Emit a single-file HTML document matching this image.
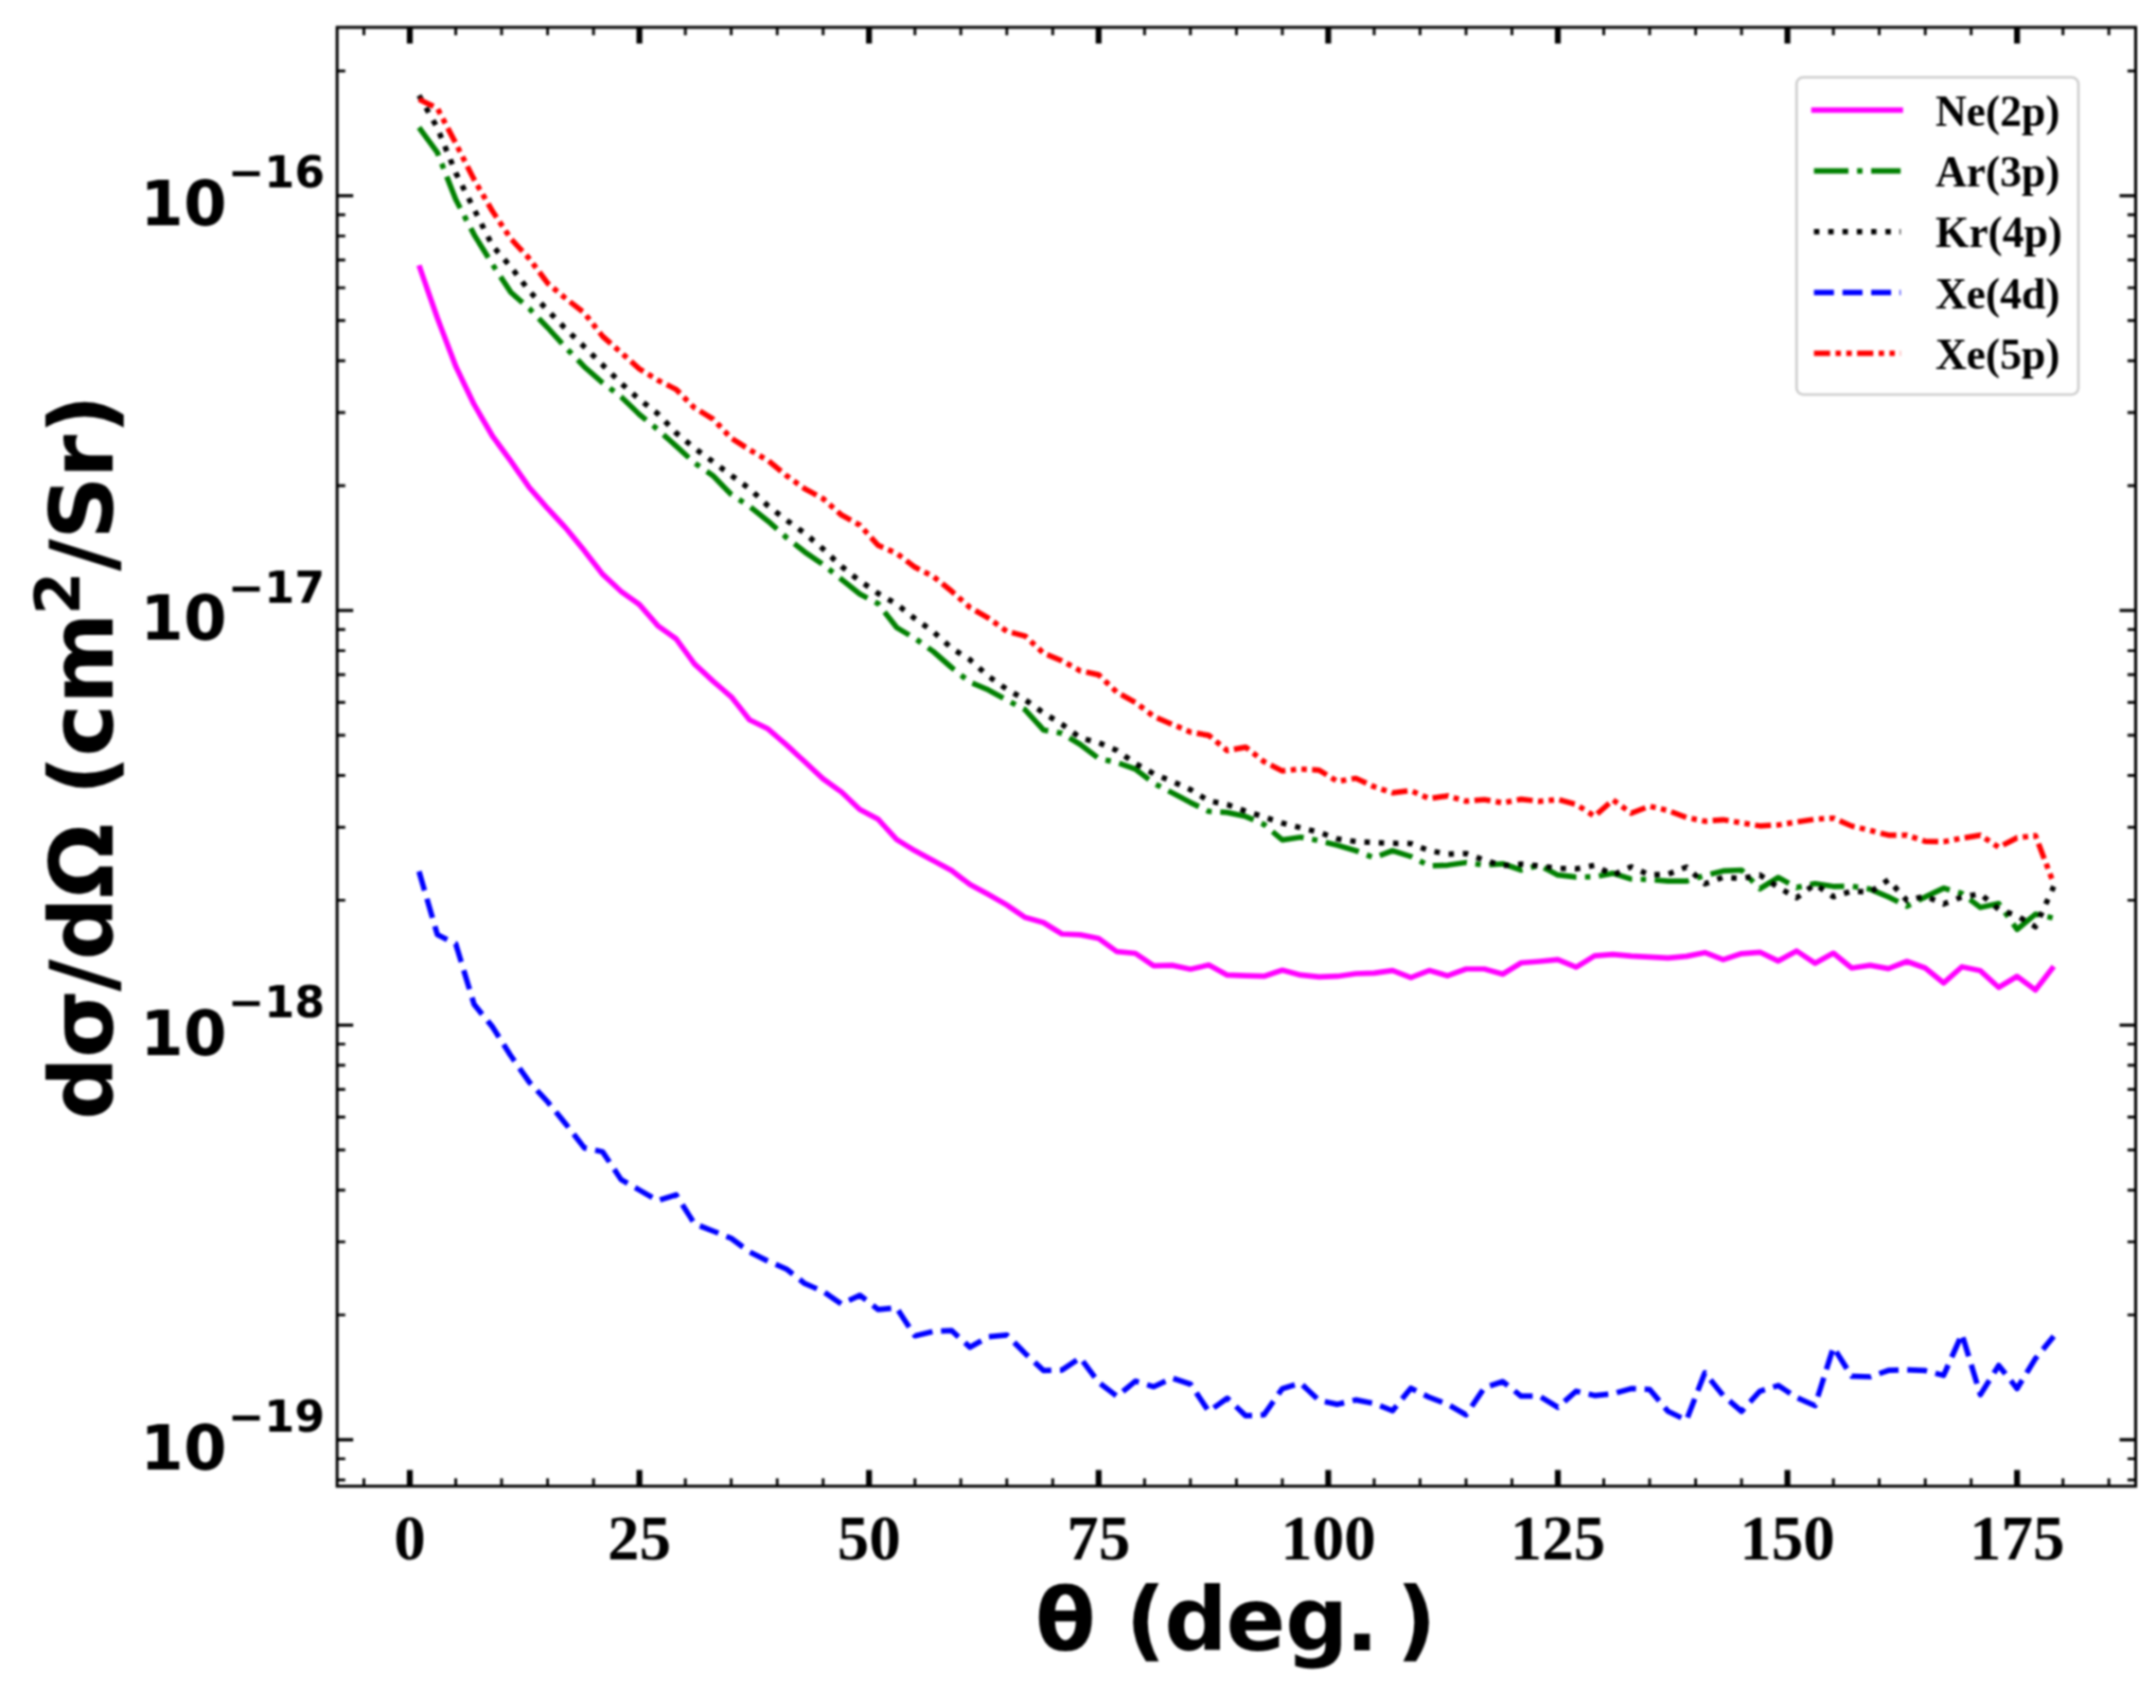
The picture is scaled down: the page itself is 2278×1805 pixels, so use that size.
<!DOCTYPE html>
<html lang="en"><head><meta charset="utf-8"><title>Differential cross sections</title>
<style>
html,body{margin:0;padding:0;background:#fff;}
body{width:2278px;height:1805px;overflow:hidden;}
svg{display:block;filter:blur(0.8px);}
</style></head><body>
<svg width="2278" height="1805" viewBox="0 0 2278 1805">
<rect x="0" y="0" width="2278" height="1805" fill="#fff"/>
<g fill="none" stroke-linejoin="round" stroke-linecap="butt">
<path d="M442.7,280.4 L462.1,336.0 L481.5,387.1 L500.9,427.4 L520.3,460.8 L539.7,487.3 L559.2,515.1 L578.6,537.3 L598.0,558.2 L617.4,581.9 L636.8,606.9 L656.2,625.0 L675.6,638.9 L695.0,661.2 L714.4,675.1 L733.8,701.6 L753.2,719.7 L772.6,736.3 L792.0,760.8 L811.5,770.3 L830.9,787.1 L850.3,805.0 L869.7,823.1 L889.1,837.0 L908.5,855.5 L927.9,865.8 L947.3,887.1 L966.7,899.1 L986.1,909.4 L1005.5,920.0 L1024.9,934.8 L1044.4,945.2 L1063.8,956.4 L1083.2,969.6 L1102.6,975.0 L1122.0,987.0 L1141.4,987.9 L1160.8,991.7 L1180.2,1005.7 L1199.6,1007.5 L1219.0,1020.6 L1238.4,1020.1 L1257.8,1024.2 L1277.2,1019.8 L1296.7,1030.4 L1316.1,1031.2 L1335.5,1031.7 L1354.9,1025.3 L1374.3,1030.4 L1393.7,1032.3 L1413.1,1031.7 L1432.5,1029.0 L1451.9,1028.4 L1471.3,1025.6 L1490.7,1033.1 L1510.1,1025.6 L1529.6,1031.2 L1549.0,1024.0 L1568.4,1024.0 L1587.8,1029.5 L1607.2,1017.5 L1626.6,1016.0 L1646.0,1014.1 L1665.4,1022.1 L1684.8,1010.1 L1704.2,1008.6 L1723.6,1010.4 L1743.0,1011.4 L1762.4,1012.3 L1781.9,1010.6 L1801.3,1006.7 L1820.7,1014.1 L1840.1,1007.8 L1859.5,1006.3 L1878.9,1015.6 L1898.3,1005.0 L1917.7,1017.9 L1937.1,1007.3 L1956.5,1023.0 L1975.9,1020.1 L1995.3,1023.6 L2014.8,1016.0 L2034.2,1023.0 L2053.6,1038.8 L2073.0,1021.7 L2092.4,1025.8 L2111.8,1043.5 L2131.2,1031.8 L2150.6,1046.2 L2170.0,1021.2" stroke="#ff00ff" stroke-width="5.7"/>
<path d="M442.7,134.7 L462.1,161.1 L481.5,210.8 L500.9,247.9 L520.3,279.4 L539.7,308.9 L559.2,326.0 L578.6,346.2 L598.0,367.6 L617.4,387.6 L636.8,404.6 L656.2,419.3 L675.6,438.0 L695.0,453.9 L714.4,471.4 L733.8,489.2 L753.2,502.6 L772.6,522.6 L792.0,535.1 L811.5,550.7 L830.9,568.0 L850.3,583.3 L869.7,596.6 L889.1,612.2 L908.5,627.8 L927.9,638.1 L947.3,663.1 L966.7,674.6 L986.1,688.5 L1005.5,705.5 L1024.9,720.9 L1044.4,729.2 L1063.8,739.8 L1083.2,750.1 L1102.6,771.5 L1122.0,774.9 L1141.4,786.8 L1160.8,801.6 L1180.2,805.8 L1199.6,812.7 L1219.0,827.7 L1238.4,837.8 L1257.8,848.1 L1277.2,857.5 L1296.7,858.6 L1316.1,862.8 L1335.5,871.2 L1354.9,887.6 L1374.3,884.8 L1393.7,888.4 L1413.1,893.2 L1432.5,899.0 L1451.9,906.5 L1471.3,899.0 L1490.7,905.1 L1510.1,914.9 L1529.6,914.3 L1549.0,911.5 L1568.4,914.3 L1587.8,912.8 L1607.2,919.5 L1626.6,914.5 L1646.0,924.7 L1665.4,926.9 L1684.8,926.6 L1704.2,922.9 L1723.6,929.0 L1743.0,929.5 L1762.4,931.2 L1781.9,931.2 L1801.3,925.1 L1820.7,920.4 L1840.1,919.5 L1859.5,939.2 L1878.9,927.3 L1898.3,937.9 L1917.7,933.8 L1937.1,936.8 L1956.5,936.6 L1975.9,939.6 L1995.3,947.9 L2014.8,957.6 L2034.2,947.9 L2053.6,938.6 L2073.0,944.2 L2092.4,959.0 L2111.8,954.8 L2131.2,982.2 L2150.6,966.1 L2170.0,970.2" stroke="#008000" stroke-width="5.7" stroke-dasharray="36.33,9.08,5.68,9.08"/>
<path d="M442.7,100.8 L462.1,135.1 L481.5,182.6 L500.9,221.0 L520.3,259.6 L539.7,282.0 L559.2,307.5 L578.6,327.9 L598.0,347.9 L617.4,366.5 L636.8,385.7 L656.2,404.9 L675.6,422.1 L695.0,437.2 L714.4,457.5 L733.8,473.6 L753.2,487.8 L772.6,502.3 L792.0,516.5 L811.5,534.6 L830.9,549.6 L850.3,563.5 L869.7,580.2 L889.1,598.6 L908.5,613.9 L927.9,627.2 L947.3,638.4 L966.7,653.7 L986.1,667.6 L1005.5,685.0 L1024.9,697.2 L1044.4,714.7 L1063.8,728.4 L1083.2,739.5 L1102.6,753.4 L1122.0,765.4 L1141.4,779.6 L1160.8,784.9 L1180.2,793.2 L1199.6,806.9 L1219.0,817.7 L1238.4,825.8 L1257.8,834.4 L1277.2,846.4 L1296.7,850.3 L1316.1,857.2 L1335.5,863.4 L1354.9,869.8 L1374.3,874.8 L1393.7,879.5 L1413.1,886.5 L1432.5,889.3 L1451.9,890.4 L1471.3,891.2 L1490.7,891.5 L1510.1,899.0 L1529.6,902.6 L1549.0,902.0 L1568.4,909.0 L1587.8,914.8 L1607.2,913.2 L1626.6,914.9 L1646.0,917.7 L1665.4,918.2 L1684.8,914.5 L1704.2,924.7 L1723.6,916.0 L1743.0,924.7 L1762.4,923.8 L1781.9,916.4 L1801.3,934.0 L1820.7,927.1 L1840.1,928.4 L1859.5,924.7 L1878.9,937.7 L1898.3,948.8 L1917.7,934.4 L1937.1,947.7 L1956.5,941.7 L1975.9,942.8 L1995.3,929.9 L2014.8,951.6 L2034.2,947.0 L2053.6,955.3 L2073.0,947.9 L2092.4,944.6 L2111.8,960.9 L2131.2,967.8 L2150.6,979.4 L2170.0,936.8" stroke="#000000" stroke-width="5.7" stroke-dasharray="5.70,9.40"/>
<path d="M442.7,920.9 L462.1,987.7 L481.5,997.4 L500.9,1061.4 L520.3,1085.1 L539.7,1115.7 L559.2,1143.5 L578.6,1164.4 L598.0,1188.1 L617.4,1213.1 L636.8,1217.3 L656.2,1246.5 L675.6,1257.6 L695.0,1268.8 L714.4,1262.7 L733.8,1293.3 L753.2,1300.8 L772.6,1308.6 L792.0,1323.0 L811.5,1332.8 L830.9,1341.1 L850.3,1356.4 L869.7,1364.8 L889.1,1378.0 L908.5,1368.8 L927.9,1383.9 L947.3,1382.0 L966.7,1411.7 L986.1,1407.1 L1005.5,1406.2 L1024.9,1423.8 L1044.4,1412.7 L1063.8,1410.8 L1083.2,1430.3 L1102.6,1448.3 L1122.0,1447.9 L1141.4,1434.9 L1160.8,1460.9 L1180.2,1475.7 L1199.6,1459.6 L1219.0,1465.5 L1238.4,1456.3 L1257.8,1462.7 L1277.2,1491.5 L1296.7,1477.6 L1316.1,1496.1 L1335.5,1495.2 L1354.9,1467.4 L1374.3,1461.8 L1393.7,1480.0 L1413.1,1484.1 L1432.5,1479.4 L1451.9,1483.2 L1471.3,1490.9 L1490.7,1467.0 L1510.1,1476.7 L1529.6,1484.1 L1549.0,1495.2 L1568.4,1466.5 L1587.8,1460.0 L1607.2,1475.4 L1626.6,1475.4 L1646.0,1487.3 L1665.4,1470.2 L1684.8,1474.8 L1704.2,1473.0 L1723.6,1467.4 L1743.0,1468.3 L1762.4,1491.5 L1781.9,1500.8 L1801.3,1450.7 L1820.7,1474.8 L1840.1,1491.5 L1859.5,1470.2 L1878.9,1464.2 L1898.3,1477.0 L1917.7,1485.5 L1937.1,1423.8 L1956.5,1454.4 L1975.9,1455.0 L1995.3,1448.2 L2014.8,1447.7 L2034.2,1448.4 L2053.6,1453.5 L2073.0,1409.9 L2092.4,1473.9 L2111.8,1442.9 L2131.2,1467.4 L2150.6,1435.8 L2170.0,1412.1" stroke="#0000ff" stroke-width="5.7" stroke-dasharray="21.03,9.09"/>
<path d="M442.7,105.0 L462.1,114.3 L481.5,151.4 L500.9,189.8 L520.3,223.2 L539.7,252.2 L559.2,273.3 L578.6,299.3 L598.0,315.6 L617.4,330.8 L636.8,355.5 L656.2,372.5 L675.6,389.8 L695.0,401.8 L714.4,411.5 L733.8,431.0 L753.2,442.7 L772.6,463.0 L792.0,475.3 L811.5,486.7 L830.9,502.6 L850.3,516.5 L869.7,527.0 L889.1,544.3 L908.5,554.9 L927.9,576.3 L947.3,584.7 L966.7,599.4 L986.1,609.2 L1005.5,624.8 L1024.9,642.1 L1044.4,653.2 L1063.8,667.2 L1083.2,672.2 L1102.6,690.3 L1122.0,698.3 L1141.4,708.9 L1160.8,713.1 L1180.2,731.7 L1199.6,742.3 L1219.0,757.0 L1238.4,765.4 L1257.8,773.7 L1277.2,777.1 L1296.7,793.2 L1316.1,789.6 L1335.5,804.9 L1354.9,814.7 L1374.3,812.7 L1393.7,813.8 L1413.1,825.8 L1432.5,822.5 L1451.9,831.4 L1471.3,837.8 L1490.7,835.5 L1510.1,843.9 L1529.6,841.1 L1549.0,846.7 L1568.4,845.0 L1587.8,848.4 L1607.2,844.6 L1626.6,846.8 L1646.0,844.9 L1665.4,850.1 L1684.8,862.6 L1704.2,845.3 L1723.6,859.4 L1743.0,852.0 L1762.4,856.6 L1781.9,863.9 L1801.3,867.8 L1820.7,866.3 L1840.1,869.6 L1859.5,872.8 L1878.9,871.8 L1898.3,868.7 L1917.7,865.7 L1937.1,864.6 L1956.5,873.0 L1975.9,877.6 L1995.3,882.6 L2014.8,882.6 L2034.2,889.1 L2053.6,889.5 L2073.0,885.8 L2092.4,882.6 L2111.8,895.4 L2131.2,885.4 L2150.6,883.0 L2170.0,934.0" stroke="#ff0000" stroke-width="5.7" stroke-dasharray="16.99,5.66,5.66,5.66,5.66,5.66"/>
</g>
<g stroke="#000" fill="none">
<path d="M433.0,1570.6v-17.0M433.0,28.9v17.0M675.6,1570.6v-17.0M675.6,28.9v17.0M918.2,1570.6v-17.0M918.2,28.9v17.0M1160.8,1570.6v-17.0M1160.8,28.9v17.0M1403.4,1570.6v-17.0M1403.4,28.9v17.0M1646.0,1570.6v-17.0M1646.0,28.9v17.0M1888.6,1570.6v-17.0M1888.6,28.9v17.0M2131.2,1570.6v-17.0M2131.2,28.9v17.0" stroke-width="6.2"/>
<path d="M384.5,1570.6v-8.3M384.5,28.9v8.3M481.5,1570.6v-8.3M481.5,28.9v8.3M530.0,1570.6v-8.3M530.0,28.9v8.3M578.6,1570.6v-8.3M578.6,28.9v8.3M627.1,1570.6v-8.3M627.1,28.9v8.3M724.1,1570.6v-8.3M724.1,28.9v8.3M772.6,1570.6v-8.3M772.6,28.9v8.3M821.2,1570.6v-8.3M821.2,28.9v8.3M869.7,1570.6v-8.3M869.7,28.9v8.3M966.7,1570.6v-8.3M966.7,28.9v8.3M1015.2,1570.6v-8.3M1015.2,28.9v8.3M1063.8,1570.6v-8.3M1063.8,28.9v8.3M1112.3,1570.6v-8.3M1112.3,28.9v8.3M1209.3,1570.6v-8.3M1209.3,28.9v8.3M1257.8,1570.6v-8.3M1257.8,28.9v8.3M1306.4,1570.6v-8.3M1306.4,28.9v8.3M1354.9,1570.6v-8.3M1354.9,28.9v8.3M1451.9,1570.6v-8.3M1451.9,28.9v8.3M1500.4,1570.6v-8.3M1500.4,28.9v8.3M1549.0,1570.6v-8.3M1549.0,28.9v8.3M1597.5,1570.6v-8.3M1597.5,28.9v8.3M1694.5,1570.6v-8.3M1694.5,28.9v8.3M1743.0,1570.6v-8.3M1743.0,28.9v8.3M1791.6,1570.6v-8.3M1791.6,28.9v8.3M1840.1,1570.6v-8.3M1840.1,28.9v8.3M1937.1,1570.6v-8.3M1937.1,28.9v8.3M1985.6,1570.6v-8.3M1985.6,28.9v8.3M2034.2,1570.6v-8.3M2034.2,28.9v8.3M2082.7,1570.6v-8.3M2082.7,28.9v8.3M2179.7,1570.6v-8.3M2179.7,28.9v8.3M2228.2,1570.6v-8.3M2228.2,28.9v8.3" stroke-width="2.9"/>
<path d="M356.2,1521.5h17.0M2256.5,1521.5h-17.0M356.2,1083.3h17.0M2256.5,1083.3h-17.0M356.2,645.1h17.0M2256.5,645.1h-17.0M356.2,206.9h17.0M2256.5,206.9h-17.0" stroke-width="3.3"/>
<path d="M356.2,1564.0h8.6M2256.5,1564.0h-8.6M356.2,1541.6h8.6M2256.5,1541.6h-8.6M356.2,1389.6h8.6M2256.5,1389.6h-8.6M356.2,1312.4h8.6M2256.5,1312.4h-8.6M356.2,1257.7h8.6M2256.5,1257.7h-8.6M356.2,1215.2h8.6M2256.5,1215.2h-8.6M356.2,1180.5h8.6M2256.5,1180.5h-8.6M356.2,1151.2h8.6M2256.5,1151.2h-8.6M356.2,1125.8h8.6M2256.5,1125.8h-8.6M356.2,1103.4h8.6M2256.5,1103.4h-8.6M356.2,951.4h8.6M2256.5,951.4h-8.6M356.2,874.2h8.6M2256.5,874.2h-8.6M356.2,819.5h8.6M2256.5,819.5h-8.6M356.2,777.0h8.6M2256.5,777.0h-8.6M356.2,742.3h8.6M2256.5,742.3h-8.6M356.2,713.0h8.6M2256.5,713.0h-8.6M356.2,687.6h8.6M2256.5,687.6h-8.6M356.2,665.2h8.6M2256.5,665.2h-8.6M356.2,513.2h8.6M2256.5,513.2h-8.6M356.2,436.0h8.6M2256.5,436.0h-8.6M356.2,381.3h8.6M2256.5,381.3h-8.6M356.2,338.8h8.6M2256.5,338.8h-8.6M356.2,304.1h8.6M2256.5,304.1h-8.6M356.2,274.8h8.6M2256.5,274.8h-8.6M356.2,249.4h8.6M2256.5,249.4h-8.6M356.2,227.0h8.6M2256.5,227.0h-8.6M356.2,75.0h8.6M2256.5,75.0h-8.6" stroke-width="2.9"/>
<rect x="356.2" y="28.9" width="1900.3" height="1541.7" stroke-width="3.1" stroke-linejoin="miter"/>
</g>
<g font-family="'DejaVu Sans', 'Liberation Sans', sans-serif" font-weight="bold" fill="#000">
<text id="yt16" x="148.3" y="238.2" font-size="65.6">10<tspan id="ys16" dx="1.2" dy="-39.9" font-size="46.0">−16</tspan></text>
<text id="yt17" x="148.3" y="676.4" font-size="65.6">10<tspan id="ys17" dx="1.2" dy="-39.9" font-size="46.0">−17</tspan></text>
<text id="yt18" x="148.3" y="1114.6" font-size="65.6">10<tspan id="ys18" dx="1.2" dy="-39.9" font-size="46.0">−18</tspan></text>
<text id="yt19" x="148.3" y="1552.8" font-size="65.6">10<tspan id="ys19" dx="1.2" dy="-39.9" font-size="46.0">−19</tspan></text>
<text id="xlabel" x="1093.7 1157.6 1189.2 1230.2 1295.2 1357.9 1421.5 1455 1475.3" y="1743.7" font-size="93.0">θ (deg. )</text>
<text id="ylabel" transform="translate(118.5,801.5) rotate(-90)" font-size="93.0" x="-381.9 -316.6 -246.2 -213.2 -147.7 -71.5 -38.9 2.0 57.2">dσ/dΩ (cm<tspan id="ysup" x="151.8" dy="-35" font-size="65.1">2</tspan><tspan x="197.9 231.2 296.2 342.3" dy="35">/Sr)</tspan></text>
</g>
<g font-family="'Liberation Serif', serif" font-weight="bold" fill="#000" text-anchor="middle" font-size="67.0">
<text id="xt0" x="433.0" y="1648.1">0</text>
<text id="xt25" x="675.6" y="1648.1">25</text>
<text id="xt50" x="918.2" y="1648.1">50</text>
<text id="xt75" x="1160.8" y="1648.1">75</text>
<text id="xt100" x="1403.4" y="1648.1">100</text>
<text id="xt125" x="1646.0" y="1648.1">125</text>
<text id="xt150" x="1888.6" y="1648.1">150</text>
<text id="xt175" x="2131.2" y="1648.1">175</text>
</g>
<rect x="1898.2" y="81.8" width="297.8" height="335.2" rx="7" ry="7" fill="#fff" fill-opacity="0.8" stroke="#cccccc" stroke-width="2.6"/>
<g fill="none" stroke-linecap="butt">
<path d="M1913.7,116.3H2010.7" stroke="#ff00ff" stroke-width="5.7"/>
<path d="M1916.6,180.6H2008.2" stroke="#008000" stroke-width="5.7" stroke-dasharray="36.48,9.12,5.70,9.12"/>
<path d="M1916.6,244.8H2008.2" stroke="#000000" stroke-width="5.7" stroke-dasharray="5.70,9.40"/>
<path d="M1916.6,309.1H2008.2" stroke="#0000ff" stroke-width="5.7" stroke-dasharray="21.09,9.12"/>
<path d="M1916.6,373.3H2008.2" stroke="#ff0000" stroke-width="5.7" stroke-dasharray="17.10,5.70,5.70,5.70,5.70,5.70"/>
</g>
<g font-family="'Liberation Serif', serif" font-weight="bold" fill="#000" font-size="45.5">
<text id="lg0" x="2045" y="132.9">Ne(2p)</text>
<text id="lg1" x="2045" y="197.2">Ar(3p)</text>
<text id="lg2" x="2045" y="261.4">Kr(4p)</text>
<text id="lg3" x="2045" y="325.7">Xe(4d)</text>
<text id="lg4" x="2045" y="389.9">Xe(5p)</text>
</g>
</svg>
</body></html>
